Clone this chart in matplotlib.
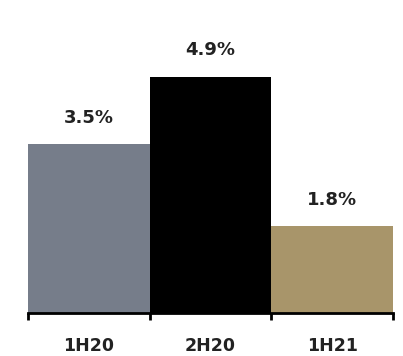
import matplotlib.pyplot as plt

# Data
periods = ["1H20", "2H20", "1H21"]
values = [3.5, 4.9, 1.8]
colors = ["#767d8a", "#000000", "#a8956a"]

fig = plt.figure(figsize=(4.03, 3.56), dpi=100)
ax = fig.add_axes([28 / 403, 43 / 356, 365 / 403, 270 / 356])

x = list(range(len(periods)))
ax.bar(x, values, width=1.0, color=colors)

for xi, v in zip(x, values):
    ax.annotate(f"{v}%", (xi, v), xytext=(0, 19), textcoords="offset points",
                ha="center", va="center", fontsize=13, fontweight="bold",
                family="DejaVu Sans", color="#222222")

ax.set_xlim(-0.5, 2.5)
ax.set_ylim(0, 5.6)

for s in ["top", "right", "left"]:
    ax.spines[s].set_visible(False)
ax.spines["bottom"].set_linewidth(2)
ax.set_yticks([])

ax.set_xticks(x)
ax.set_xticklabels(periods, fontsize=12.5, fontweight="bold", color="#222222")
ax.tick_params(axis="x", which="major", length=0, pad=17)
ax.set_xticks([-0.5, 0.5, 1.5, 2.5], minor=True)
ax.tick_params(axis="x", which="minor", length=5, width=2, color="black")

fig.savefig("out.png", dpi=100)
